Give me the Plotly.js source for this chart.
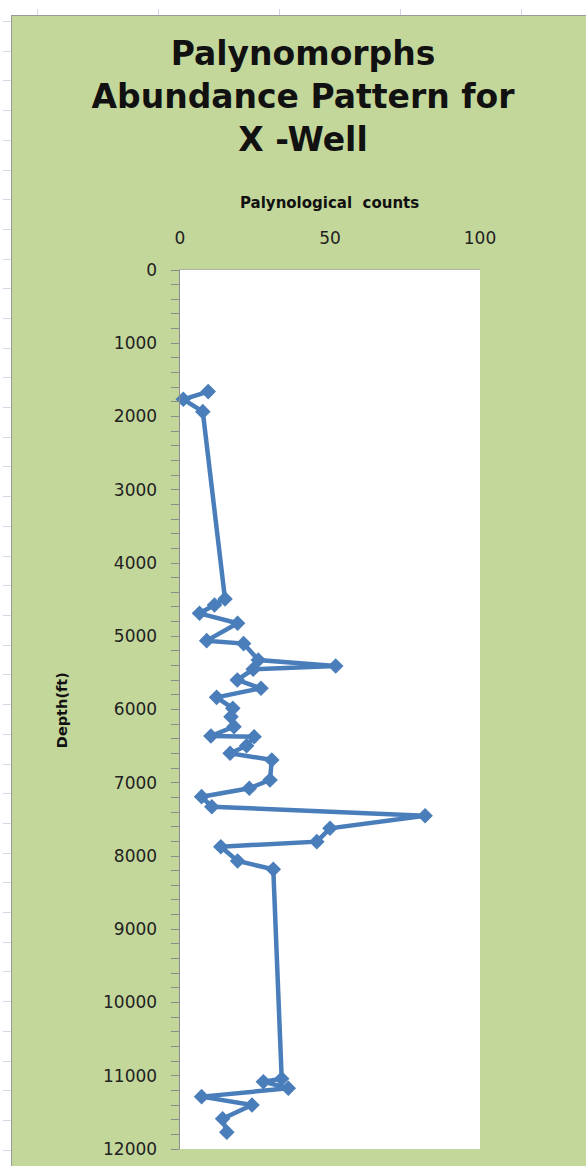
<!DOCTYPE html>
<html>
<head>
<meta charset="utf-8">
<script src="https://cdn.plot.ly/plotly-3.0.1.min.js"></script>
<style>
  html, body { margin: 0; padding: 0; background: #ffffff; width: 586px; height: 1166px; overflow: hidden; position: relative; }
  #frame { position: absolute; left: 11px; top: 15px; width: 575px; height: 1151px; border-left: 1px solid #9a9a9a; border-top: 1px solid #9a9a9a; box-sizing: border-box; background: #c4d79b; }
  #chart { position: absolute; left: 12px; top: 16px; width: 574px; height: 1150px; }
  .vt { position: absolute; top: 9px; width: 1px; height: 6px; background: #d0d7e5; }
  .ht { position: absolute; left: 3px; width: 8px; height: 1px; background: #d0d7e5; }
</style>
</head>
<body>
<div id="grid"></div>
<div id="frame"></div>
<div id="chart"></div>
<script>
// Palynological counts vs depth (ft)
const depthFt = [1660, 1765, 1934, 4490, 4573, 4687, 4823, 5060, 5100, 5324, 5406, 5451,
                 5597, 5710, 5834, 5984, 6098, 6234, 6362, 6371, 6494, 6597, 6689, 6962,
                 7076, 7190, 7327, 7450, 7622, 7804, 7873, 8068, 8182, 11040, 11081, 11171,
                 11285, 11400, 11588, 11770];
const palyCounts = [9.4, 1.1, 7.6, 15, 11.5, 6.5, 19.2, 8.9, 21.2, 26.1, 51.9, 24.4,
                    19.1, 27, 12.2, 17.6, 17, 18, 10.3, 24.7, 22.2, 16.7, 30.6, 30,
                    23.1, 7.2, 10.6, 81.7, 50, 45.6, 13.6, 19.2, 31.1, 33.9, 27.8, 36.1,
                    7.2, 24, 14.2, 15.6];
const xTickVals = [0, 50, 100];
const yTickVals = [0, 1000, 2000, 3000, 4000, 5000, 6000, 7000, 8000, 9000, 10000, 11000, 12000];

// faint spreadsheet grid marks around the chart object
const grid = document.getElementById('grid');
[37, 158, 279, 400, 521].forEach(function (x) {
  const d = document.createElement('div'); d.className = 'vt'; d.style.left = x + 'px'; grid.appendChild(d);
});
for (let y = 21; y < 1166; y += 29.7) {
  const d = document.createElement('div'); d.className = 'ht'; d.style.top = Math.round(y) + 'px'; grid.appendChild(d);
}

const trace = {
  x: palyCounts,
  y: depthFt,
  type: 'scatter',
  mode: 'lines+markers',
  line: { color: '#4a7ebb', width: 4.5 },
  marker: { symbol: 'diamond', size: 12, color: '#4a7ebb' },
  cliponaxis: false,
  hoverinfo: 'x+y'
};

const layout = {
  width: 574,
  height: 1150,
  margin: { l: 168, r: 106, t: 254, b: 17 },
  paper_bgcolor: '#c4d79b',
  plot_bgcolor: '#ffffff',
  showlegend: false,
  font: { family: 'DejaVu Sans, sans-serif', color: '#1a1a1a' },
  title: {
    text: 'Palynomorphs<br>Abundance Pattern for<br>X -Well',
    font: { family: 'DejaVu Sans, sans-serif', size: 33, color: '#111111', weight: 'bold' },
    x: 0.507, xref: 'container', xanchor: 'center',
    y: 0.957, yref: 'container', yanchor: 'top'
  },
  xaxis: {
    side: 'top',
    range: [0, 100],
    tickvals: xTickVals,
    ticktext: xTickVals.map(String),
    ticks: '',
    showgrid: false,
    zeroline: false,
    showline: true,
    linecolor: '#b0b0b0',
    linewidth: 1.5,
    tickfont: { size: 17, color: '#222222' },
    ticklabelstandoff: 18,
    fixedrange: true
  },
  yaxis: {
    range: [12000, 0],
    tickvals: yTickVals,
    ticktext: yTickVals.map(String),
    ticks: 'outside',
    ticklen: 8,
    tickwidth: 1,
    tickcolor: '#8c8c8c',
    minor: { dtick: 200, ticks: 'outside', ticklen: 8, tickwidth: 1, tickcolor: '#8c8c8c', showgrid: false },
    showgrid: false,
    zeroline: false,
    showline: true,
    linecolor: '#8c8c8c',
    linewidth: 1.5,
    tickfont: { size: 17, color: '#222222' },
    ticklabelstandoff: 10,
    fixedrange: true
  },
  annotations: [
    {
      text: '<b>Palynological  counts</b>',
      xref: 'paper', yref: 'paper', x: 0.498, y: 1.076,
      xanchor: 'center', yanchor: 'middle', showarrow: false,
      font: { size: 15, color: '#111111' }
    },
    {
      text: '<b>Depth(ft)</b>',
      xref: 'paper', yref: 'paper', x: -0.393, y: 0.4994,
      xanchor: 'center', yanchor: 'middle', showarrow: false, textangle: -90,
      font: { size: 14.5, color: '#111111' }
    }
  ]
};

Plotly.newPlot('chart', [trace], layout, { displayModeBar: false, staticPlot: true });
</script>
</body>
</html>
